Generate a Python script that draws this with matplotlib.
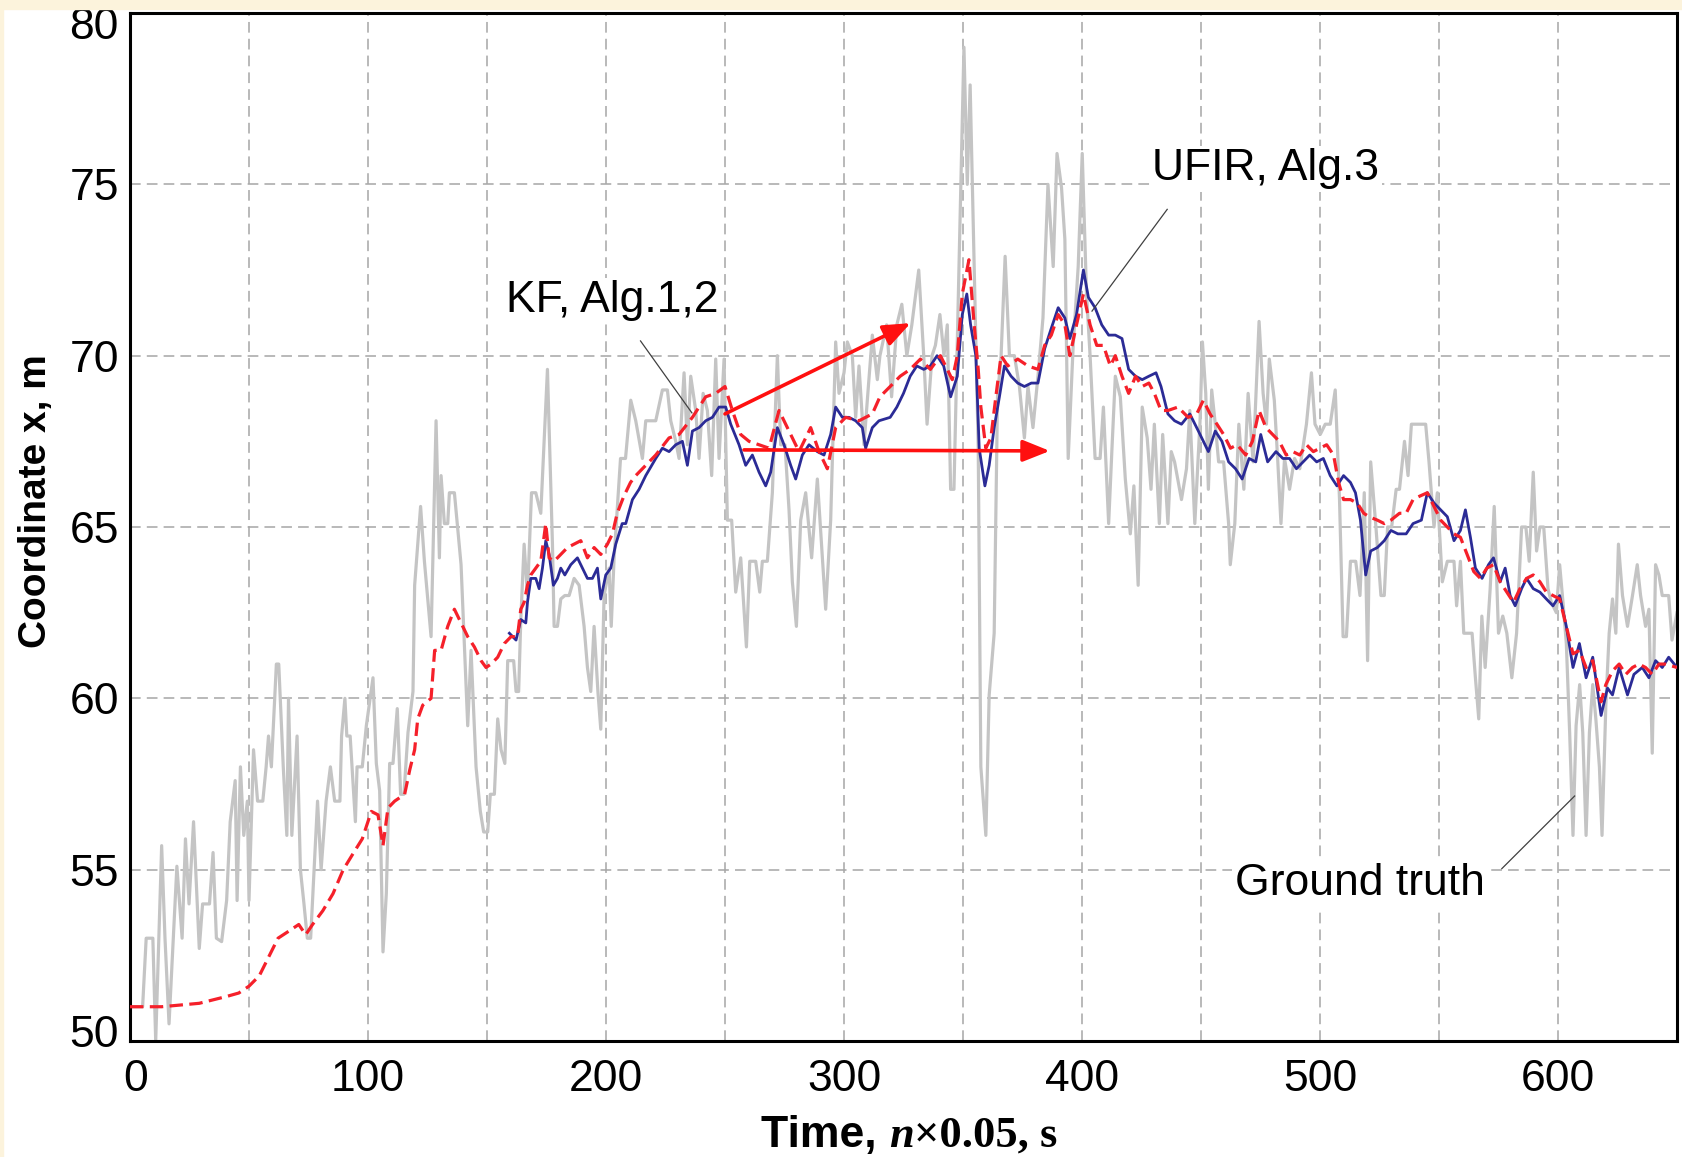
import matplotlib
matplotlib.use("Agg")
import matplotlib.pyplot as plt
import matplotlib.transforms as mtransforms
from matplotlib.patches import Rectangle

plt.rcParams["font.family"] = ["Liberation Sans", "DejaVu Sans"]

# ground truth (gray, noisy)
gt_x = [0, 5.3, 6.8, 9.6, 10.8, 13.3, 14.7, 16.4, 19.7, 21.9, 23.3, 24.8, 26.7, 29.1, 30.5, 33.4, 34.9, 36.3,
        38.5, 40.6, 42.1, 44.2, 45, 46.4, 47.8, 49.3, 50, 51.9, 53.6, 55.8, 57.2, 58.2, 59.4, 61.5, 62.5, 64.4,
        65.9, 66.6, 68, 70.2, 71.6, 73.1, 74.5, 75.9, 78.8, 80.3, 82.4, 84.2, 86, 88.2, 88.9, 90.3, 91.1, 92.5,
        94.7, 95.4, 97.6, 99.3, 102.1, 103.5, 104.9, 106.3, 107.7, 109.1, 110.5, 112.3, 113.7, 115.1, 116.8,
        118.9, 119.6, 122.1, 123.7, 126.5, 128.6, 130, 130.7, 132.1, 133.5, 134.2, 136.3, 139.1, 141.9, 143.3,
        145.4, 147.2, 148.6, 150.3, 151.4, 153.1, 154.5, 155.9, 157.5, 158.7, 161.2, 162.2, 163.3, 164.2, 165.6,
        167, 168.7, 170.5, 172.6, 175.4, 177.5, 178.2, 179.6, 181, 182.7, 184.5, 186.6, 188.7, 190.8, 192.2,
        193.6, 195, 196.6, 197.8, 199.2, 201.3, 202.2, 203.4, 206.1, 208.2, 210.4, 212.5, 215.3, 216.7, 220.9,
        223.7, 225.8, 227.2, 229.3, 230.7, 232.8, 234.2, 235.6, 237.7, 239.1, 240.8, 242.6, 244.4, 246.1, 247.5,
        249.6, 251, 252.8, 254.5, 256.6, 259, 260.4, 262.9, 264.6, 265.7, 267.8, 269.9, 272, 273.4, 275.2, 276.9,
        278.3, 280, 281.8, 283.9, 286.4, 288.8, 290.9, 292.3, 294.4, 296.5, 297.9, 300, 301.4, 303.5, 304.9,
        306.3, 308.4, 309.8, 311.9, 314, 315.1, 317.9, 320, 322.2, 324.3, 326.4, 328.5, 331.4, 333.5, 334.9, 337,
        338.4, 340.3, 342, 343.4, 344.8, 346.2, 348.3, 350.4, 351.8, 353, 354.7, 356.4, 357.5, 359.6, 361, 363.1,
        364.5, 366, 367.7, 369.5, 371.6, 373.7, 375.8, 377.3, 379.4, 381.5, 383.6, 385.7, 387.9, 389.5, 391.4,
        392.8, 394.2, 396.3, 398.4, 400.1, 401.9, 403.4, 405.5, 407.6, 409, 411.2, 412.6, 414, 416.1, 418.2,
        420.3, 421.8, 423.6, 425.3, 427.4, 429, 430.4, 432.5, 433.9, 436.1, 437.5, 438.9, 441.8, 443.9, 445.3,
        447.4, 449.6, 450.6, 452, 453.1, 454.5, 456, 457.4, 459.5, 461.6, 462.3, 464.2, 465.9, 468, 469.8, 471.9,
        474.4, 476.1, 477.5, 478.7, 480.8, 482.2, 483.6, 485.1, 487.2, 489.3, 491.5, 494.3, 496.4, 497.9, 500.1,
        502.2, 504.3, 506.4, 508.2, 509.7, 511.1, 512.8, 515, 516.8, 518.6, 520, 521.3, 523.5, 525.6, 527, 528.4,
        530.1, 532, 533.4, 535.5, 537, 538.4, 541.2, 542.4, 544.4, 545.8, 547.9, 549.3, 551.4, 553.5, 556.3,
        557.4, 559, 560.4, 561.8, 563.9, 565.3, 566.7, 568, 569.4, 571.5, 573.2, 575, 576.8, 578.5, 580.6, 582.6,
        584.7, 586.5, 587.9, 589.6, 591, 592.4, 594, 595.8, 597.2, 599.3, 600.7, 602.1, 603.5, 604.9, 606.3,
        607.6, 609.1, 610.4, 611.8, 613.2, 614.6, 615.9, 617.4, 618.5, 620.1, 621.5, 622.9, 624.3, 625.4, 627.1,
        629.2, 631.3, 633.3, 634.7, 636.8, 638.2, 639.6, 641, 642.4, 643.8, 646.5, 647.9, 650]
gt_y = [51, 51, 53, 53, 50, 55.7, 53, 50.5, 55.1, 53, 55.9, 54, 56.4, 52.7, 54, 54, 55.5, 53,
        52.9, 54.1, 56.4, 57.6, 54.1, 58, 56, 57, 54.1, 58.5, 57, 57, 58, 58.9, 58, 61, 61, 58,
        56, 60, 56, 58.9, 55, 54, 53, 53, 57, 55, 57, 58, 57, 57, 58.9, 60, 58.9, 58.9,
        56.4, 58, 58, 59.2, 60.6, 58.1, 57.3, 52.6, 54.3, 58.1, 58.1, 59.7, 57.2, 57.2, 59,
        60.2, 63.3, 65.6, 64, 61.8, 68.1, 64.1, 66.5, 65.1, 65.1, 66, 66, 63.9, 59.2, 61.4,
        58, 56.7, 56.1, 56.1, 57.2, 57.2, 59.4, 58.5, 58.1, 61.1, 61.1, 60.2, 60.2, 62.3, 64.5,
        63, 66, 66, 65.4, 69.6, 64.5, 62.1, 62.1, 62.9, 63, 63, 63.5, 63.3, 62.1, 60.9,
        60.2, 62.1, 60.2, 59.1, 63, 63.8, 62.1, 64.1, 67, 67, 68.7, 68.1, 67, 68.1, 68.1,
        69, 69, 68.1, 67.5, 67, 69.5, 67.4, 69.4, 68.4, 67, 68.9, 68.4, 66.5, 69.9, 67,
        69.9, 65.2, 65.2, 63.1, 64.1, 61.5, 64, 64, 63.1, 64, 64, 66, 70, 67.4, 67.4, 65.5,
        63.4, 62.1, 65.2, 66, 64.1, 66.4, 64.1, 62.6, 65.2, 70.4, 68.9, 69.5, 70.4, 70, 68.2,
        69.7, 67.4, 68.7, 70.6, 69.3, 70, 70.9, 68.8, 70.9, 71.5, 70, 70.9, 72.5, 70, 68, 70,
        70.3, 71.2, 70, 70.9, 66.1, 66.1, 72.6, 79, 75, 77.9, 72.6, 67.3, 58, 56, 60.1, 61.9,
        68.8, 70, 72.9, 70, 70, 69.1, 67.6, 69.1, 67.9, 69.4, 71.1, 75, 72.6, 75.9, 74.9,
        73.4, 67, 70.3, 72.6, 75.9, 71.8, 70, 67, 67, 68.5, 65.1, 67.3, 69.4, 68.8, 66.4,
        64.8, 66.2, 63.3, 68.5, 67.6, 66.1, 68, 65.1, 67.7, 65.1, 67.2, 66.9, 65.8, 66.7, 68.4,
        65.1, 68.1, 70.4, 68.9, 66.1, 69, 68, 66.9, 66.9, 65.1, 63.9, 65.1, 68, 66.1, 68.9, 66.9,
        71, 68.9, 68, 69.9, 68.7, 67, 65.1, 67, 66.1, 67, 66.7, 68, 69.5, 68, 67.7,
        68, 68, 69, 65.8, 61.8, 61.8, 64, 64, 63, 66, 61.1, 66.9, 65, 63, 63, 65,
        65, 66.1, 66.1, 67.5, 66.5, 68, 68, 68, 68, 66.9, 65, 66, 63.4, 64, 64,
        62.7, 64, 61.9, 61.9, 61.9, 60.6, 59.4, 62.4, 60.9, 63.2, 65.6, 61.9, 62.4, 61.9, 60.6, 61.9,
        65, 65, 64, 66.6, 64.3, 65, 65, 63.2, 62.8, 62.5, 63.9, 62.8, 61.6, 59, 56,
        59.2, 60.4, 59, 56, 59, 60.4, 59.4, 58, 56, 59.8, 61.9, 62.9, 61.9, 64.5, 63,
        62.1, 63, 63.9, 63, 62.1, 62.6, 58.4, 63.9, 63.6, 63, 63, 61.7, 62.5]

# KF, Alg.1,2 (red dashed)
kf_x = [0, 13.3, 29.1, 40.6, 45.7, 50, 54.3, 57.9, 62.2, 66.6, 70.9, 73.8, 76.7, 81, 85.3, 89.6, 94, 97.6,
        101.4, 104.2, 106.3, 108.4, 111.2, 115.4, 117.5, 119.6, 120.9, 123, 126.5, 128, 130.7, 133.5, 136.3,
        139.1, 141.9, 144.7, 147.5, 149.6, 151.7, 154.5, 157.3, 160.1, 162.8, 164.2, 165.6, 167, 168.4, 170.5,
        172.6, 174.7, 176.1, 178.2, 181, 183.8, 186.6, 189.4, 192.2, 195, 197.8, 200.6, 202.7, 204.7, 207.5,
        210.3, 212.5, 216.7, 220.9, 226.5, 230.7, 236.3, 241.9, 246.1, 250, 253.1, 256.6, 260.1, 264.3, 268.5,
        272.7, 276.9, 281.1, 286, 289.5, 293, 296.5, 300.7, 306.3, 311.9, 315.1, 319.4, 323.6, 327.8, 332.1,
        336.3, 340.5, 343.4, 345.5, 347.6, 349.7, 352.5, 354.7, 356.4, 357.5, 359.6, 361.7, 363.8, 366, 368.8,
        373, 377.3, 381.5, 384.3, 387.1, 390, 392.8, 394.9, 397.7, 400.6, 403.4, 406.2, 409, 411.9, 414, 416.8,
        419.6, 422.5, 425.3, 428.1, 430.4, 433.2, 436.1, 440.3, 444.6, 448.2, 451, 453.8, 456.7, 459.5, 462.4,
        465.2, 468.8, 471.6, 474.4, 477.3, 480.1, 482.9, 485.8, 488.6, 491.5, 494.3, 497.2, 500, 502.8, 505.7,
        507.8, 509.9, 512.8, 515.6, 518.4, 520.6, 524.1, 527, 529.8, 533.4, 536.2, 539.1, 541.9, 545.1, 547.9,
        550.7, 553.5, 556.3, 559, 561.8, 564.6, 567.4, 570.1, 572.9, 575.7, 578.5, 581.3, 584, 586.8, 589.6,
        592.4, 595.1, 597.9, 600.7, 603.5, 606.3, 609, 611.8, 614.6, 618.1, 620.1, 622.9, 625.7, 628.5, 631.3,
        634, 636.8, 639.6, 642.4, 645.1, 650]
kf_y = [51, 51, 51.1, 51.3, 51.4, 51.6, 51.9, 52.4, 53, 53.2, 53.4, 53.1, 53.4, 53.8, 54.3, 55, 55.5, 55.9,
        56.7, 56.6, 55.7, 56.8, 57, 57.2, 57.9, 58.5, 59.4, 59.8, 60, 61.4, 61.4, 62.1, 62.6,
        62.2, 61.8, 61.5, 61.1, 60.9, 61, 61.2, 61.6, 61.8, 61.8, 62.6, 62.8, 63.3, 63.6, 63.8,
        64, 65.1, 64.1, 64, 64.2, 64.4, 64.5, 64.6, 64.1, 64.4, 64.2, 64.5, 64.8, 65.4, 65.9,
        66.3, 66.5, 66.8, 67.1, 67.6, 67.7, 68.2, 68.8, 68.9, 69.1, 68.4, 67.7, 67.5, 67.4, 67.3,
        68.4, 67.8, 67.2, 67.9, 67.2, 66.7, 67.9, 68.2, 68.1, 68.3, 68.8, 69.1, 69.4, 69.6, 69.9,
        69.6, 70, 69.6, 69.3, 70, 71.8, 72.8, 70.9, 69.6, 68.5, 67.3, 67.6, 68.8, 70, 69.7,
        69.9, 69.7, 69.6, 70.3, 70.6, 71.2, 70.9, 70, 70.9, 71.8, 70.9, 70.3, 70.3, 69.7, 70, 69.4,
        68.9, 69.4, 69.1, 69.2, 68.9, 68.4, 68.4, 68.5, 68.2, 68.3, 68.7, 68.3, 68, 67.7, 67.3,
        67.4, 67.1, 67.5, 68.4, 67.9, 67.7, 67.5, 67.1, 67.2, 67.1, 67.4, 67.2, 67.3, 67.4, 67.1,
        66.3, 65.8, 65.8, 65.7, 65.4, 65.3, 65.2, 65.1, 65.2, 65.4, 65.4, 65.8, 65.9, 66, 65.6,
        65.2, 65, 64.8, 64.7, 64.2, 63.7, 63.5, 63.8, 63.9, 63.4, 63.1, 62.8, 63.2, 63.5, 63.6,
        63.4, 63.1, 63, 62.9, 62.1, 61.3, 61.4, 60.9, 61.1, 59.9, 60.4, 60.8, 61, 60.7, 60.9,
        61, 60.9, 60.7, 61, 61, 60.9]

# UFIR, Alg.3 (blue solid)
ufir_x = [159.4, 162.2, 164.2, 166.3, 167, 168.4, 170.5, 171.9, 173.3, 174.7, 176.1, 177.9, 179.6, 181, 182.7,
          185.2, 188, 190.1, 192.2, 194.3, 196.4, 197.8, 199.9, 202, 204.1, 206.8, 208.3, 211.1, 213.9, 216.7,
          220.9, 223.7, 226.5, 229.3, 232.1, 234.2, 236.3, 239.1, 241.9, 244.7, 247.5, 250.3, 252.4, 255.9, 258.7,
          261.5, 264.3, 267.1, 269.2, 272, 274.8, 277.6, 279.7, 282.5, 285.3, 288.8, 291.6, 294.4, 296.5, 299.3,
          302.1, 304.9, 307.7, 309.1, 311.9, 314.7, 319.4, 322.2, 325, 327.8, 330.6, 333.5, 336.3, 339.1, 341.9,
          344.8, 347.6, 349.7, 351.6, 353.2, 355.4, 356.8, 359.2, 361, 363.1, 365.3, 367.4, 370.2, 373, 375.8,
          378.7, 381.5, 384.3, 387.1, 390, 392.8, 394.9, 397.7, 400.6, 402.7, 405.5, 408.3, 411.2, 414, 416.8,
          419.6, 422.5, 425.3, 428.1, 431.1, 433.2, 436.1, 438.9, 441.8, 445.3, 448.9, 453.1, 456, 458.8, 461.6,
          464.5, 467.3, 470.2, 473, 475.1, 478, 481.5, 484.4, 487.2, 490.1, 492.9, 495.7, 498.6, 501.4, 504.3,
          507.1, 509.9, 512.8, 514.9, 517, 519.2, 521.3, 524.1, 527, 529.8, 532.7, 536.2, 539.1, 542.6, 545.1,
          547.9, 550.7, 553.5, 556.3, 559, 561.1, 563.2, 565.3, 568.1, 570.8, 572.9, 575.7, 577.8, 579.9, 582,
          584.7, 586.8, 589.6, 592.4, 595.1, 597.9, 600.7, 603.5, 606.3, 609, 611.8, 614.6, 618.1, 620.8, 622.9,
          625.7, 629.2, 631.9, 635.4, 638.2, 641, 643.8, 646.5, 650]
ufir_y = [61.9, 61.7, 62.3, 62.2, 62.8, 63.5, 63.5, 63.2, 63.8, 64.6, 64.2, 63.3, 63.5, 63.8, 63.6,
          63.9, 64.1, 63.8, 63.5, 63.5, 63.8, 62.9, 63.6, 63.8, 64.5, 65.1, 65.1, 65.8, 66.1, 66.5,
          67, 67.3, 67.2, 67.4, 67.5, 66.8, 67.8, 67.9, 68.1, 68.2, 68.5, 68.5, 68, 67.4, 66.8,
          67.1, 66.6, 66.2, 66.6, 67.9, 67.4, 66.8, 66.4, 67.1, 67.4, 67.2, 67.1, 67.7, 68.5, 68.2,
          68.2, 68.1, 67.9, 67.3, 67.9, 68.1, 68.2, 68.5, 68.9, 69.4, 69.7, 69.6, 69.7, 70, 69.7,
          68.8, 69.4, 71.2, 71.8, 70.9, 70, 67.3, 66.2, 66.8, 67.9, 68.8, 69.7, 69.4, 69.2, 69.1,
          69.2, 69.2, 70.2, 70.8, 71.4, 71.1, 70.5, 71.2, 72.5, 71.7, 71.4, 70.9, 70.6, 70.6, 70.5,
          69.6, 69.4, 69.3, 69.4, 69.5, 69.1, 68.3, 68.1, 68, 68.3, 67.8, 67.2, 67.8, 67.5, 66.9,
          66.7, 66.4, 67, 66.9, 67.7, 66.9, 67.2, 67, 67, 66.7, 66.9, 67.1, 66.9, 67, 66.5,
          66.2, 66.5, 66.3, 66, 65.2, 63.6, 64.3, 64.4, 64.6, 64.9, 64.8, 64.8, 65.1, 65.2, 66,
          65.7, 65.5, 65.3, 64.6, 64.9, 65.5, 64.7, 63.8, 63.5, 63.9, 64.1, 63.4, 63.8, 63, 62.7,
          63.2, 63.5, 63.2, 63.1, 62.9, 62.7, 63, 62.1, 60.9, 61.6, 60.6, 61.2, 59.5, 60.3, 60.1,
          60.9, 60.1, 60.7, 60.9, 60.6, 61.1, 60.9, 61.2, 60.9]

x_ticks = [0, 100, 200, 300, 400, 500, 600]
y_ticks = [50, 55, 60, 65, 70, 75, 80]

W, H = 1682, 1157
fig = plt.figure(figsize=(W / 100, H / 100), dpi=100)
fig.patch.set_facecolor("white")
beige = "#fcf3dc"
fig.patches.append(Rectangle((0, 1 - 9 / H), 1, 9 / H, transform=fig.transFigure, color=beige, zorder=0))
fig.patches.append(Rectangle((0, 0), 3 / W, 1, transform=fig.transFigure, color=beige, zorder=0))

ax = fig.add_axes([130 / W, 1 - 1041 / H, (1677 - 130) / W, (1041 - 13) / H])
ax.set_xlim(0, 650)
ax.set_ylim(50, 80)
ax.set_xticks(x_ticks)
ax.set_xticks([50, 150, 250, 350, 450, 550], minor=True)
ax.set_yticks(y_ticks)
ax.tick_params(which="both", length=0, labelsize=32)
ax.tick_params(axis="x", pad=13)
ax.tick_params(axis="y", pad=8)
ax.grid(True, which="both", color="#a6a6a6", lw=1.1, linestyle=(0, (7, 4)), zorder=0)
for s in ax.spines.values():
    s.set_linewidth(2.2)
    s.set_color("black")

ax.plot(gt_x, gt_y, color="#c4c4c4", lw=2.3, zorder=2)
ax.plot(ufir_x, ufir_y, color="#2b2b96", lw=2.0, zorder=3)
ax.plot(kf_x, kf_y, color="#f5202a", lw=2.3, linestyle=(0, (4.2, 2.0)), zorder=4)

# nudge the end tick labels like in the original
fig.canvas.draw()
for lab in ax.get_yticklabels():
    if lab.get_text() == "80":
        lab.set_transform(lab.get_transform() + mtransforms.ScaledTranslation(0, -0.10, fig.dpi_scale_trans))
    if lab.get_text() == "50":
        lab.set_transform(lab.get_transform() + mtransforms.ScaledTranslation(0, 0.10, fig.dpi_scale_trans))
for lab in ax.get_xticklabels():
    if lab.get_text() == "0":
        lab.set_transform(lab.get_transform() + mtransforms.ScaledTranslation(0.06, 0, fig.dpi_scale_trans))

# annotations
box = dict(facecolor="white", edgecolor="none", pad=2)
ax.text(202.7, 71.6, "KF, Alg.1,2", fontsize=32, ha="center", va="center", bbox=box, zorder=6)
ax.text(477.2, 75.45, "UFIR, Alg.3", fontsize=32, ha="center", va="center", bbox=box, zorder=6)
ax.text(516.8, 54.6, "Ground truth", fontsize=32, ha="center", va="center", bbox=box, zorder=6)
ax.plot([214.5, 236.1], [70.43, 68.33], color="#404040", lw=0.9, zorder=7)
ax.plot([435.8, 404.2], [74.27, 71.3], color="#404040", lw=0.9, zorder=7)
ax.plot([576.4, 607.0], [55.03, 57.15], color="#404040", lw=0.9, zorder=7)

arrow = dict(arrowstyle="-|>,head_length=0.55,head_width=0.22", color="#ff1010", lw=2.6,
             mutation_scale=30, shrinkA=0, shrinkB=0)
ax.annotate("", xy=(328.0, 70.95), xytext=(250.0, 68.3), arrowprops=arrow, zorder=8)
ax.annotate("", xy=(386.5, 67.22), xytext=(258.0, 67.25), arrowprops=arrow, zorder=8)

# y label
fig.text(36 / W, 1 - 501 / H, "Coordinate x, m", rotation=90, fontsize=28, fontweight="bold",
         ha="center", va="center")

# x label: sans "Time," + serif italic n + serif "×0.05, s"
r = fig.canvas.get_renderer()
base_y = (H - 1147) / H
parts = [("Time, ", dict(family="Liberation Sans", weight="bold", style="normal")),
         ("n", dict(family="Liberation Serif", weight="bold", style="italic")),
         ("\u00d70.05, s", dict(family="Liberation Serif", weight="bold", style="normal"))]
texts = [fig.text(0, base_y, s, fontsize=32, ha="left", va="baseline", **kw) for s, kw in parts]
widths = [t.get_window_extent(r).width for t in texts]
cx = (130 + 1677) / 2 + 6
x0 = cx - sum(widths) / 2
for t, w in zip(texts, widths):
    t.set_x(x0 / W)
    x0 += w

fig.savefig("out.png", dpi=100)
